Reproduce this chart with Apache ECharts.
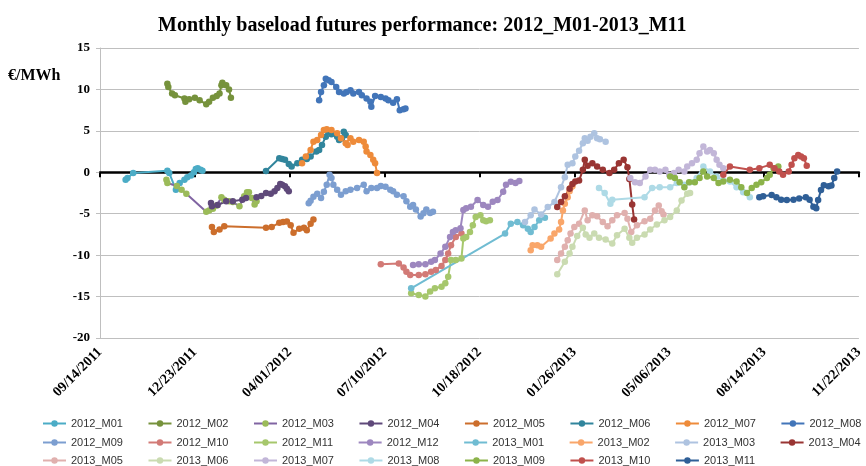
<!DOCTYPE html>
<html lang="en">
<head>
    <meta charset="UTF-8">
    <title>Monthly baseload futures performance</title>
    <style>
        html, body{
            margin: 0;
            padding: 0;
            background-color: #fff;
        }
        #main{
            width: 866px;
            height: 466px;
        }
    </style>
    <script src="https://cdn.jsdelivr.net/npm/echarts@6/dist/echarts.min.js"></script>
</head>
<body>
<div id="main"></div>
<script type="text/javascript">
    // x = days since 09/14/2011, y = EUR/MWh
    var s2012_M01 = [[27,-0.9],[29,-0.7],[35,-0.1],[71,0.2],[73,-0.1],[80,-2.1],[84,-1.3],[89,-0.9],[92,-0.6],[96,-0.4],[99,0.0],[101,0.4],[103,0.5],[106,0.3],[108,0.2]];
    var s2012_M02 = [[71,10.7],[72,10.3],[76,9.5],[79,9.3],[89,8.9],[90,8.5],[94,8.8],[100,9.0],[105,8.7],[112,8.2],[115,8.5],[119,9.0],[123,9.2],[126,9.5],[128,10.5],[129,10.8],[133,10.5],[136,10.0],[138,9.0]];
    var s2012_M03 = [[70,-0.9],[71,-1.3],[81,-1.65],[86,-2.1],[91,-2.6],[112,-4.75],[115,-4.6],[119,-4.4],[123,-4.0],[128,-3.0],[131,-3.3],[136,-3.5],[140,-3.6],[147,-4.1],[152,-2.9],[155,-2.4],[157,-2.4],[160,-3.1],[163,-3.9],[165,-3.5]];
    var s2012_M04 = [[117,-3.7],[118,-4.1],[124,-3.95],[133,-3.5],[140,-3.5],[150,-3.3],[154,-3.1],[165,-3.0],[170,-2.85],[175,-2.5],[180,-2.6],[184,-2.3],[187,-1.9],[190,-1.4],[192,-1.5],[195,-1.7],[197,-2.0],[199,-2.3]];
    var s2012_M05 = [[118,-6.6],[120,-7.2],[126,-6.9],[131,-6.5],[175,-6.7],[181,-6.6],[189,-6.1],[193,-6.0],[197,-5.95],[201,-6.4],[204,-7.3],[210,-6.8],[215,-6.7],[218,-7.0],[222,-6.2],[225,-5.7]];
    var s2012_M06 = [[175,0.15],[189,1.7],[192,1.6],[195,1.5],[199,1.0],[202,0.7],[208,1.1],[213,1.5],[218,1.6],[222,1.9],[228,2.5],[231,2.7],[234,3.3],[238,4.3],[239,5.1],[241,4.9],[244,4.6],[250,4.3],[252,3.9],[255,4.1],[257,4.9],[259,4.5]];
    var s2012_M07 = [[213,1.1],[217,1.9],[222,2.7],[225,3.7],[229,3.9],[233,4.5],[236,5.1],[239,5.2],[244,5.1],[250,4.7],[254,4.1],[259,3.5],[261,3.3],[264,4.1],[267,3.7],[273,3.9],[278,3.7],[280,3.1],[281,2.5],[285,2.1],[288,1.5],[290,1.1],[292,-0.1]];
    var s2012_M08 = [[231,8.7],[233,9.7],[236,10.5],[238,11.3],[241,11.1],[244,10.9],[249,10.3],[252,9.7],[257,9.5],[260,9.7],[264,9.9],[267,9.5],[273,9.7],[276,9.3],[281,8.9],[285,8.5],[286,7.9],[290,9.2],[296,9.1],[301,8.9],[304,8.7],[309,8.4],[313,8.8],[316,7.5],[320,7.6],[322,7.7]];
    var s2012_M09 = [[220,-3.75],[222,-3.45],[225,-2.95],[229,-2.6],[233,-3.1],[236,-2.35],[239,-1.5],[242,-0.3],[244,-0.7],[246,-1.5],[250,-2.1],[254,-2.7],[259,-2.3],[264,-2.1],[271,-1.9],[278,-1.5],[281,-2.3],[286,-1.9],[292,-1.9],[296,-1.65],[301,-1.75],[306,-2.1],[309,-2.3],[313,-2.7],[320,-2.9],[323,-3.5],[327,-4.15],[330,-3.95],[333,-4.5],[338,-5.35],[341,-4.95],[344,-4.5],[348,-4.9],[351,-4.75]];
    var s2012_M10 = [[296,-11.1],[315,-11.0],[320,-11.5],[323,-12.0],[327,-12.4],[336,-12.4],[343,-12.3],[349,-12.0],[354,-11.8],[360,-11.3],[364,-10.6],[367,-9.8],[370,-8.8],[375,-7.8],[381,-7.4]];
    var s2012_M11 = [[328,-14.6],[336,-14.8],[343,-15.0],[348,-14.4],[353,-14.0],[360,-13.8],[364,-13.4],[367,-12.6],[370,-10.6],[375,-10.6],[381,-10.4],[383,-8.0],[386,-7.8],[390,-7.2],[393,-6.4],[396,-5.4],[401,-5.2],[404,-5.8],[407,-5.9],[411,-5.8]];
    var s2012_M12 = [[330,-11.2],[336,-11.1],[343,-11.1],[349,-10.8],[353,-10.6],[359,-9.8],[364,-9.0],[369,-7.8],[372,-7.2],[375,-7.0],[380,-6.75],[383,-4.55],[386,-4.35],[391,-4.15],[398,-3.35],[404,-3.95],[409,-4.15],[414,-3.55],[419,-3.35],[425,-2.35],[428,-1.5],[433,-1.15],[438,-1.3],[442,-1.05]];
    var s2013_M01 = [[328,-14.0],[427,-7.4],[433,-6.2],[440,-6.0],[446,-6.4],[451,-6.8],[454,-7.2],[458,-6.6],[463,-5.8],[469,-5.5]];
    var s2013_M02 = [[454,-9.4],[456,-8.8],[461,-8.8],[465,-9.0],[475,-8.0],[479,-7.4],[484,-6.9],[486,-6.0],[488,-4.6],[490,-3.8],[493,-3.0],[495,-2.3],[496,-1.9],[498,-1.7]];
    var s2013_M03 = [[448,-6.0],[454,-5.2],[458,-4.5],[465,-5.1],[472,-4.2],[479,-3.6],[486,-1.8],[490,-0.6],[493,0.9],[498,1.1],[501,1.9],[505,2.6],[509,3.5],[511,4.1],[514,3.8],[517,4.3],[521,4.7],[524,4.1],[527,4.0],[533,3.7]];
    var s2013_M04 = [[482,-4.2],[486,-3.6],[490,-2.9],[495,-2.0],[498,-1.4],[501,-1.1],[505,-1.0],[509,0.3],[511,1.5],[514,0.8],[519,1.1],[524,0.7],[530,0.3],[537,-0.1],[542,0.3],[547,1.1],[552,1.5],[556,0.6],[558,-0.8],[561,-3.9],[563,-5.7]];
    var s2013_M05 = [[482,-10.6],[486,-9.8],[490,-9.0],[493,-8.2],[496,-7.4],[500,-6.6],[505,-6.2],[511,-4.6],[514,-5.8],[519,-5.2],[524,-5.3],[530,-6.0],[535,-6.5],[540,-5.8],[545,-5.2],[553,-4.9],[556,-5.6],[560,-7.2],[566,-6.4],[574,-5.9],[580,-5.6],[585,-4.6],[589,-4.0],[592,-4.7],[594,-5.1]];
    var s2013_M06 = [[482,-12.3],[490,-10.8],[495,-9.8],[498,-9.0],[503,-7.7],[509,-6.7],[512,-7.5],[516,-7.9],[521,-7.4],[526,-7.9],[533,-8.1],[540,-8.6],[545,-7.6],[553,-6.8],[558,-7.9],[561,-8.5],[566,-7.9],[574,-7.5],[580,-6.9],[587,-6.3],[595,-5.8],[601,-5.4],[608,-4.6],[613,-3.4],[619,-2.6],[622,-2.5]];
    var s2013_M07 = [[559,-0.7],[564,-1.2],[569,-1.3],[575,-0.5],[580,0.3],[585,0.3],[590,0.1],[596,0.3],[600,-0.3],[605,-0.1],[610,0.3],[616,0.1],[619,0.7],[624,1.1],[629,1.5],[632,2.3],[636,3.1],[640,2.5],[643,2.7],[647,2.3],[650,1.5],[653,0.9],[657,0.5]];
    var s2013_M08 = [[526,-1.9],[532,-2.5],[538,-3.8],[540,-3.3],[574,-3.0],[582,-1.9],[590,-1.8],[601,-1.8],[608,-1.3],[616,-1.5],[622,-1.2],[629,-0.7],[636,0.7],[643,0.1],[650,-0.5],[657,-1.0],[664,-1.1],[671,-1.8],[678,-2.4],[685,-3.0]];
    var s2013_M09 = [[601,-0.5],[606,-0.7],[611,-1.2],[616,-1.8],[621,-1.2],[627,-1.2],[632,-0.7],[636,0.1],[640,-0.5],[647,-0.7],[652,-1.3],[657,-1.1],[664,-0.9],[671,-1.1],[676,-1.8],[682,-2.5],[687,-1.9],[692,-1.5],[697,-1.2],[703,-0.7],[706,-0.3],[710,0.5],[715,0.7]];
    var s2013_M10 = [[657,-0.3],[664,0.7],[685,0.3],[695,0.5],[706,0.9],[711,0.5],[716,0.1],[720,-0.3],[726,0.1],[729,0.9],[732,1.7],[736,2.1],[739,1.9],[742,1.7],[745,0.8]];
    var s2013_M11 = [[695,-3.0],[699,-2.9],[708,-2.75],[713,-3.0],[718,-3.3],[724,-3.35],[731,-3.3],[737,-3.15],[744,-3.0],[748,-3.3],[752,-4.15],[755,-4.35],[757,-3.35],[760,-2.15],[763,-1.55],[768,-1.7],[771,-1.6],[774,-0.7],[777,0.1]];

    var seriesNames = ['2012_M01','2012_M02','2012_M03','2012_M04','2012_M05','2012_M06','2012_M07','2012_M08',
                       '2012_M09','2012_M10','2012_M11','2012_M12','2013_M01','2013_M02','2013_M03','2013_M04',
                       '2013_M05','2013_M06','2013_M07','2013_M08','2013_M09','2013_M10','2013_M11'];
    var seriesData = [s2012_M01,s2012_M02,s2012_M03,s2012_M04,s2012_M05,s2012_M06,s2012_M07,s2012_M08,
                      s2012_M09,s2012_M10,s2012_M11,s2012_M12,s2013_M01,s2013_M02,s2013_M03,s2013_M04,
                      s2013_M05,s2013_M06,s2013_M07,s2013_M08,s2013_M09,s2013_M10,s2013_M11];
    var lineColors = ['#4BACC6','#76923C','#8064A2','#5F497A','#CC6E2C','#31859C','#EE8B3A','#4275B9',
                      '#7C9ED0','#D27A76','#A6C76C','#9D87BF','#70BCD2','#F9A66A','#AEC3E0','#993533',
                      '#E0B0AE','#CADBB1','#C2B6D8','#AEDAE6','#8CB34A','#C0504D','#2F5F97'];
    // 2012_M03 has a purple line with green markers
    var markerColors = lineColors.slice();
    markerColors[2] = '#9BBB59';

    var START = Date.UTC(2011, 8, 14);
    function twoNum(n){
        return n >= 10 ? '' + n : '0' + n;
    }
    function dayLabel(d){
        var dt = new Date(START + d * 86400000);
        return twoNum(dt.getUTCMonth() + 1) + '/' + twoNum(dt.getUTCDate()) + '/' + dt.getUTCFullYear();
    }

    var serif = "'Liberation Serif', 'Times New Roman', serif";

    var series = [];
    for (var i = 0; i < seriesNames.length; i++) {
        series.push({
            name: seriesNames[i],
            type: 'line',
            xAxisIndex: 0,
            data: seriesData[i],
            symbol: 'circle',
            symbolSize: 6.5,
            lineStyle: { width: 2, color: lineColors[i] },
            itemStyle: { color: markerColors[i] },
            emphasis: { disabled: true }
        });
    }

    function legendRow(names, top){
        return {
            data: names,
            left: 42,
            right: 0,
            top: top,
            padding: 0,
            itemGap: 24.5,
            itemWidth: 23,
            itemHeight: 8,
            selectedMode: false,
            textStyle: {
                fontFamily: "'Liberation Sans', Arial, sans-serif",
                fontSize: 11,
                color: '#333'
            }
        };
    }

    var myChart = echarts.init(document.getElementById('main'));

    var option = {
        animation: false,
        backgroundColor: '#fff',
        title: {
            text: 'Monthly baseload futures performance: 2012_M01-2013_M11',
            left: 153,
            top: 11,
            textStyle: {
                fontFamily: serif,
                fontWeight: 'bold',
                fontSize: 20,
                color: '#000'
            }
        },
        graphic: [{
            type: 'text',
            left: 8,
            top: 68,
            style: {
                text: '€/MWh',
                font: "bold 16px 'Liberation Serif', serif",
                fill: '#000'
            }
        }],
        legend: [
            legendRow(seriesNames.slice(0, 8), 418),
            legendRow(seriesNames.slice(8, 16), 437),
            legendRow(seriesNames.slice(16), 455)
        ],
        grid: {
            left: 100,
            right: 3,
            top: 48,
            bottom: 128
        },
        xAxis: [{
            // the black zero line with its ticks
            type: 'value',
            position: 'bottom',
            min: 0,
            max: 800,
            interval: 100,
            axisLine: { onZero: true, lineStyle: { color: '#000', width: 2.5 } },
            axisTick: { show: true, length: 5, lineStyle: { color: '#000', width: 2 } },
            axisLabel: { show: false },
            splitLine: { show: false }
        }, {
            // date labels along the bottom
            type: 'value',
            position: 'bottom',
            min: 0,
            max: 800,
            interval: 100,
            axisLine: { show: false, onZero: false },
            axisTick: { show: false },
            splitLine: { show: false },
            axisLabel: {
                rotate: 45,
                margin: 12,
                showMinLabel: true,
                showMaxLabel: true,
                fontFamily: serif,
                fontWeight: 'bold',
                fontSize: 14,
                color: '#000',
                formatter: dayLabel
            }
        }],
        yAxis: {
            type: 'value',
            min: -20,
            max: 15,
            interval: 5,
            axisLine: { show: true, lineStyle: { color: '#BFBFBF', width: 1 } },
            axisTick: { show: true, length: 4, lineStyle: { color: '#BFBFBF' } },
            splitLine: { lineStyle: { color: '#BFBFBF', width: 1 } },
            axisLabel: {
                margin: 10,
                fontFamily: serif,
                fontWeight: 'bold',
                fontSize: 13,
                color: '#000'
            }
        },
        series: series
    };

    myChart.setOption(option);
</script>
</body>
</html>
